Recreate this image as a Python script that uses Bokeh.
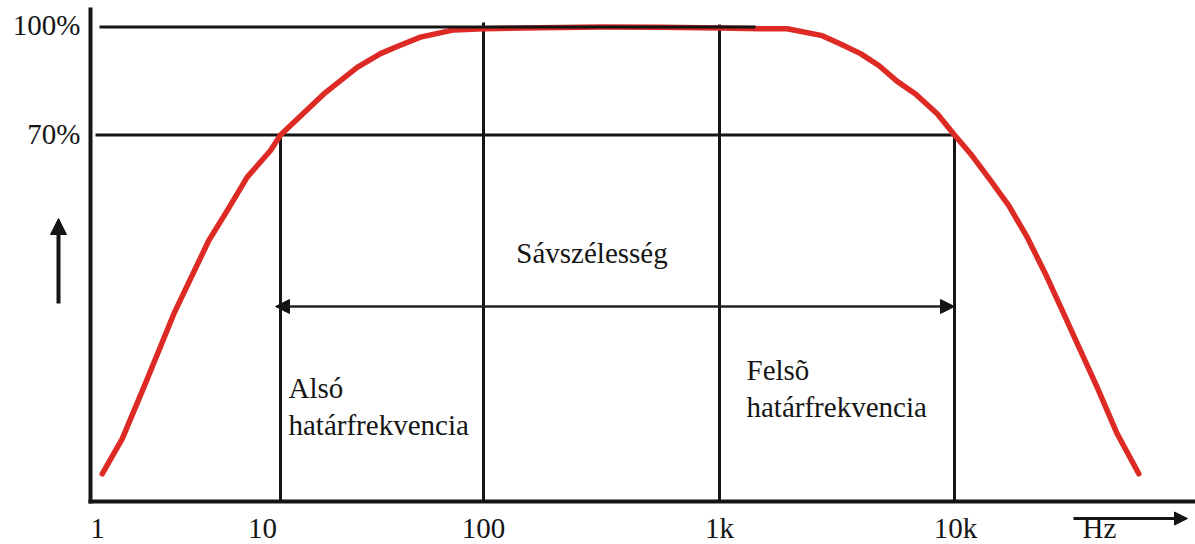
from bokeh.plotting import figure
from bokeh.models import Range1d, Arrow, NormalHead, ColumnDataSource
from bokeh.core.properties import value
from bokeh.embed import file_html
from bokeh.resources import INLINE

# ---------------- data ----------------
# frequency axis: schematic decade labels and their positions along the axis (drawing units)
decade_labels = ["1", "10", "100", "1k", "10k"]
decade_pos = [97, 262, 483, 719, 955]

# gain axis labels (percent)
gain_levels = [100, 70]
gain_labels = ["100%", "70%"]

# frequency-response curve: position along frequency axis, gain in percent
freq_pos = [101.7, 121.7, 143.3, 173.3, 208.3, 226.7, 246.7, 270.0, 280.0, 323.3,
            356.7, 380.0, 396.7, 420.0, 453.3, 483.3, 540.0, 600.0, 660.0, 720.0,
            760.0, 786.7, 821.7, 840.0, 860.0, 878.3, 896.7, 915.0, 936.7, 954.0,
            970.0, 990.0, 1008.3, 1026.7, 1045.0, 1063.3, 1080.0, 1096.7, 1116.7, 1138.3]
gain_pct = [-24.1, -14.4, -0.1, 20.3, 40.7, 49.0, 58.3, 65.7, 70.0, 81.4,
            88.8, 92.6, 94.6, 97.2, 99.2, 99.5, 99.8, 100.0, 99.9, 99.7,
            99.5, 99.5, 97.6, 95.3, 92.6, 89.3, 84.9, 81.4, 75.9, 70.0,
            64.8, 57.4, 50.4, 41.6, 31.4, 20.3, 10.1, -0.1, -13.0, -24.1]

# cut-off frequencies (positions along the frequency axis) and cut-off level
f_low_pos = 280
f_high_pos = 954
cutoff_pct = 70

# ---------------- layout helpers ----------------
W, H = 1195, 544
PX_PER_PCT = 3.6
Y100 = 26.5            # pixel row of the 100 % level


def py(row):
    """pixel row -> gain-percent coordinate"""
    return 100 - (row - Y100) / PX_PER_PCT


x_range = Range1d(0, W)
y_range = Range1d(py(H), py(0))

p = figure(width=W, height=H, x_range=x_range, y_range=y_range,
           output_backend="svg", toolbar_location=None,
           x_axis_location=None, y_axis_location=None,
           min_border=0, min_border_left=0, min_border_right=0,
           min_border_top=0, min_border_bottom=0)
p.grid.visible = False
p.outline_line_color = None
p.background_fill_color = "white"
p.border_fill_color = "white"

INK = "#151515"
RED = "#dd2a24"
FONT = value("Liberation Serif")
FS = "29px"
MID = 10.5   # distance from text middle to its baseline at this size

axis_y = py(501)

# vertical guide lines
p.segment(x0=[f_low_pos], y0=[cutoff_pct], x1=[f_low_pos], y1=[axis_y], line_color=INK, line_width=3)
p.segment(x0=[f_high_pos], y0=[cutoff_pct], x1=[f_high_pos], y1=[axis_y], line_color=INK, line_width=3)
p.segment(x0=[decade_pos[2]], y0=[py(22)], x1=[decade_pos[2]], y1=[axis_y], line_color=INK, line_width=3)
p.segment(x0=[decade_pos[3]], y0=[py(24)], x1=[decade_pos[3]], y1=[axis_y], line_color=INK, line_width=3)

# 70 % level line
p.segment(x0=[95], y0=[gain_levels[1]], x1=[f_high_pos], y1=[gain_levels[1]], line_color=INK, line_width=3)

# response curve
src = ColumnDataSource(dict(x=freq_pos, y=gain_pct))
p.line("x", "y", source=src, line_color=RED, line_width=5.5, line_join="round", line_cap="round")

# 100 % level line (drawn over the curve)
p.segment(x0=[99], y0=[gain_levels[0]], x1=[755], y1=[gain_levels[0]], line_color=INK, line_width=3)

# axes lines
p.segment(x0=[90], y0=[py(7)], x1=[90], y1=[py(503)], line_color=INK, line_width=4)
p.segment(x0=[88], y0=[axis_y], x1=[W], y1=[axis_y], line_color=INK, line_width=4)

# bandwidth double arrow
p.add_layout(Arrow(x_start=f_low_pos - 5, y_start=py(306), x_end=f_high_pos, y_end=py(306),
                   line_color="#222222", line_width=2.5,
                   start=NormalHead(size=14, fill_color=INK, line_color=INK, line_width=1),
                   end=NormalHead(size=14, fill_color=INK, line_color=INK, line_width=1)))

# vertical (gain) arrow at the left
p.add_layout(Arrow(x_start=58, y_start=py(303), x_end=58, y_end=py(218),
                   line_color=INK, line_width=4,
                   end=NormalHead(size=16, fill_color=INK, line_color=INK, line_width=1)))

# Hz arrow
p.add_layout(Arrow(x_start=1073, y_start=py(518), x_end=1187, y_end=py(518),
                   line_color=INK, line_width=3,
                   end=NormalHead(size=13, fill_color=INK, line_color=INK, line_width=1)))

# tick labels (frequency)
p.text(x=decade_pos, y=[py(538 - MID)] * len(decade_pos), text=decade_labels,
       text_font=FONT, text_font_size=FS, text_color=INK,
       text_align="center", text_baseline="middle")

# tick labels (gain)
p.text(x=[80] * len(gain_levels), y=[py(25.5 - 1), py(134.3 - 1)], text=gain_labels,
       text_font=FONT, text_font_size=FS, text_color=INK,
       text_align="right", text_baseline="middle")

# annotations
p.text(x=[591.5], y=[py(263 - MID)], text=["Sávszélesség"],
       text_font=FONT, text_font_size=FS, text_color=INK,
       text_align="center", text_baseline="middle")
p.text(x=[288, 288], y=[py(398 - MID), py(435 - MID)], text=["Alsó", "határfrekvencia"],
       text_font=FONT, text_font_size=FS, text_color=INK,
       text_align="left", text_baseline="middle")
p.text(x=[746, 746], y=[py(380 - MID), py(417 - MID)], text=["Felsõ", "határfrekvencia"],
       text_font=FONT, text_font_size=FS, text_color=INK,
       text_align="left", text_baseline="middle")
p.text(x=[1082], y=[py(538 - MID)], text=["Hz"],
       text_font=FONT, text_font_size=FS, text_color=INK,
       text_align="left", text_baseline="middle")

open("out.html", "w").write(file_html(p, INLINE))
